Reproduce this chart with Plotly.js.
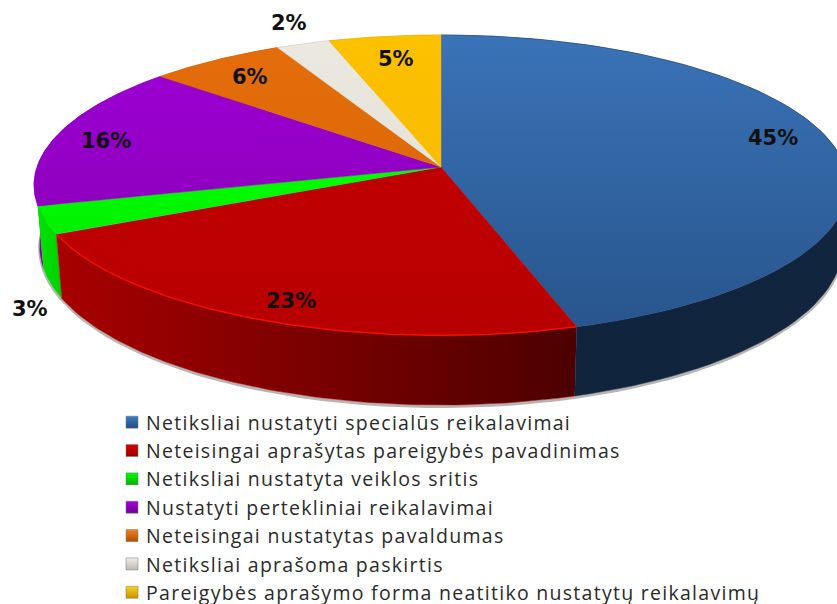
<!DOCTYPE html>
<html><head><meta charset="utf-8">
<script src="https://cdn.plot.ly/plotly-3.0.1.min.js"></script>
<style>html,body{margin:0;padding:0;background:#fff}#c{width:837px;height:604px}
.legendtext{letter-spacing:1.28px}
.legendsymbols{transform:translateX(6px)}</style></head>
<body><div id="c"></div>
<script>
const categories=["Netiksliai nustatyti specialūs reikalavimai","Neteisingai aprašytas pareigybės pavadinimas","Netiksliai nustatyta veiklos sritis","Nustatyti pertekliniai reikalavimai","Neteisingai nustatytas pavaldumas","Netiksliai aprašoma paskirtis","Pareigybės aprašymo forma neatitiko nustatytų reikalavimų"];
const values=[45.2,22.7,3.0,15.6,6.1,2.4,5.0];
const topColors=[["#3a73b8","#28558c"],["#c00000","#b80000"],["#00ff00","#00f000"],["#9a00d0","#9000c0"],["#e46c0a","#e06a08"],["#ebe8e0","#e6e3da"],["#fdc100","#fabc00"]];
const wallColors=[["#10233c","#12253e"],["#a80000","#4c0000"],["#00e400","#00d000"],["#7a00a8","#8400b4"],["#a84f06","#a84f06"],["#aaa89f","#aaa89f"],["#b88c00","#b88c00"]];
const swatchColors=["#3f7fc8","#e00000","#00ff00","#a800e0","#f08020","#f0eee8","#ffd020"];
const swatchDark=["#1f4a80","#900000","#00b000","#6a0090","#b05000","#bcb9b0","#c89000"];
const labelX=[773,291,30,106,250,289,396];
const labelY=[138,301,309,141,77,23,59];

const cx=441,cy=167,rx=404,ry=148,k=0.121;
function rimPoint(t){const X=Math.sin(t),Y=-Math.cos(t),w=1-k*Y;return [cx+rx*X/w,cy+ry*Y/w];}
function lower(p){return [cx+(p[0]-cx)*0.986,p[1]+51+0.0556*p[1]];}
function arc(a,b){const n=80,o=[];for(let i=0;i<=n;i++){o.push(rimPoint(a+(b-a)*i/n));}return o;}
const total=values.reduce((s,v)=>s+v,0);
let cum=0;const slices=values.map(v=>{const a=cum/total*2*Math.PI;cum+=v;return {a,b:cum/total*2*Math.PI};});

const traces=[];
// soft shadow below the wall
const sh=arc(Math.PI*0.4,Math.PI*1.62).map(lower);
traces.push({type:'scatter',mode:'lines',x:sh.map(p=>p[0]),y:sh.map(p=>p[1]+1.5),line:{color:'rgba(70,70,70,0.40)',width:3},showlegend:false,hoverinfo:'skip'});
// walls, back to front
for(let i=values.length-1;i>=0;i--){
  const s=slices[i],t=arc(s.a,s.b),b=t.map(lower).reverse(),p=t.concat(b);
  const xs=p.map(q=>q[0]);
  traces.push({type:'scatter',mode:'lines',x:xs,y:p.map(q=>q[1]),fill:'toself',
    line:{width:0.5,color:wallColors[i][0]},
    fillgradient:{type:'horizontal',start:Math.min(...xs),stop:Math.max(...xs),colorscale:[[0,wallColors[i][0]],[1,wallColors[i][1]]]},
    showlegend:false,hoverinfo:'skip'});
}
// top faces
values.forEach((v,i)=>{
  const s=slices[i],p=[[cx,cy]].concat(arc(s.a,s.b),[[cx,cy]]);
  const ys=p.map(q=>q[1]);
  traces.push({type:'scatter',mode:'lines',x:p.map(q=>q[0]),y:ys,fill:'toself',
    line:{width:0.5,color:topColors[i][1]},
    fillgradient:{type:'vertical',start:Math.min(...ys),stop:Math.max(...ys),colorscale:[[0,topColors[i][0]],[1,topColors[i][1]]]},
    name:categories[i],text:Math.round(v)+'%',hoverinfo:'name+text',showlegend:false});
});
// red rim highlight
const rim=arc(slices[1].a,slices[1].b);
traces.push({type:'scatter',mode:'lines',x:rim.map(p=>p[0]),y:rim.map(p=>p[1]),line:{color:'#f01000',width:1.5},showlegend:false,hoverinfo:'skip'});
// legend entries
categories.forEach((c,i)=>{
  traces.push({type:'scatter',mode:'markers',x:[null],y:[null],name:c,
    marker:{symbol:'square',size:12,color:swatchColors[i],gradient:{type:'vertical',color:swatchDark[i]},line:{width:0.5,color:'#777'}}});
});
const annotations=values.map((v,i)=>({x:labelX[i],y:labelY[i],xref:'x',yref:'y',text:Math.round(v)+'%',showarrow:false,
  xanchor:'center',yanchor:'middle',font:{family:'"DejaVu Sans",sans-serif',size:21,color:'#111',weight:700}}));
Plotly.newPlot('c',traces,{
  width:837,height:604,margin:{l:0,r:0,t:0,b:0,autoexpand:false},paper_bgcolor:'#fff',plot_bgcolor:'#fff',
  xaxis:{range:[0,837],visible:false,fixedrange:true},
  yaxis:{range:[604,0],visible:false,fixedrange:true},
  showlegend:true,
  legend:{x:106/837,xanchor:'left',y:1-403/604,yanchor:'top',bgcolor:'rgba(0,0,0,0)',maxheight:1,
    font:{family:'"Open Sans",sans-serif',size:19.5,color:'#2a2a2a'}},
  annotations
},{displayModeBar:false,responsive:false});
</script></body></html>
